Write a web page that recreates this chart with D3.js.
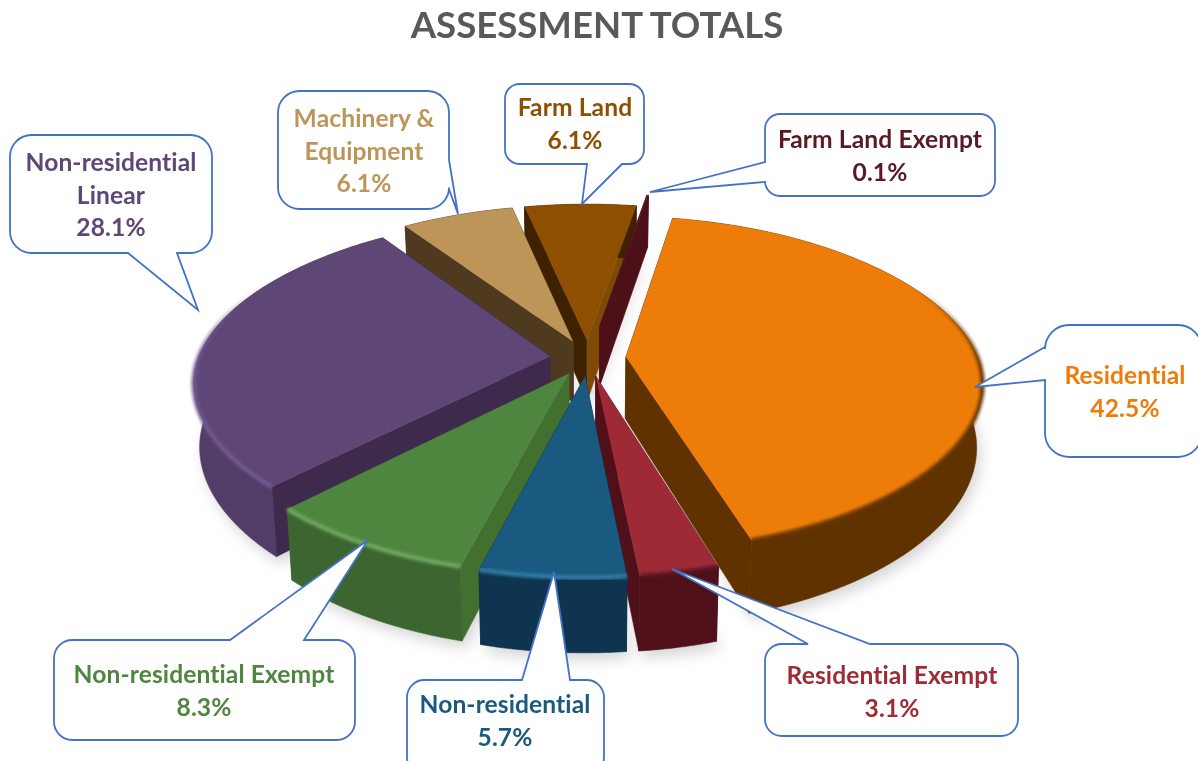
<!DOCTYPE html>
<html><head><meta charset="utf-8">
<script src="https://cdnjs.cloudflare.com/ajax/libs/d3/7.8.5/d3.min.js"></script>
<style>html,body{margin:0;padding:0;background:#fff;overflow:hidden}svg{display:block}text{font-family:Lato,"Open Sans",sans-serif;font-weight:700}</style>
</head><body><svg id="c" width="1198" height="761"></svg>
<script>
const categories=["Residential","Residential Exempt","Non-residential","Non-residential Exempt","Non-residential Linear","Machinery & Equipment","Farm Land","Farm Land Exempt"];
const shares=[42.5,3.1,5.7,8.3,28.1,6.1,6.1,0.1];
const labelLines=[["Residential"],["Residential Exempt"],["Non-residential"],["Non-residential Exempt"],["Non-residential","Linear"],["Machinery &","Equipment"],["Farm Land"],["Farm Land Exempt"]];
const topColors=["#ed7d08","#9e2a36","#1a5a80","#4e8640","#5e4676","#bd9558","#8f4f00","#5a1a24"];
const wallColors=["#5f3200","#4f101a","#0e3450","#3c6530","#523c68","#4f3a20","#3e2200","#4e1018"];
const startCut=["#5f3200","#4f101a","#0e3450","#42702f","#3e2a4d","#4f3a20","#3e2200","#4e1018"];
const endCut=["#5f3200","#4f101a","#0e3450","#42702f","#3e2a4d","#4f3a20","#7f4a06","#4e1018"];
const rimColors=["#6a3800","#5a1420","#2f7da6","#71a862","#705b90","#bd9558","#8f4f00","#5a1a24"];

// layout, not data
const W=1198,H=761,cx=588,cy=358,R=345,k=0.4725,persp=0.00046,depth=62,startDeg=10;
const explodeBy=[38,38,38,38,38,38,38,70];
const callouts=[
 {box:[1045,325,1202,457],side:"left",a:347,b:380,tip:[975,387],tx:1125,ty:384},
 {box:[765,644,1018,736],side:"top",a:808,b:870,tip:[672,569],tx:892,ty:684},
 {box:[407,680,604,775],side:"top",a:522,b:570,tip:[554,572],tx:505,ty:713},
 {box:[54,640,355,740],side:"top",a:230,b:304,tip:[368,540],tx:204,ty:683},
 {box:[10,135,212,253],side:"bottom",a:128,b:177,tip:[198,310],tx:111,ty:171},
 {box:[278,91,449,209],side:"right",a:160,b:189,tip:[458,214],tx:364,ty:127},
 {box:[505,84,644,164],side:"bottom",a:587,b:622,tip:[582,204],tx:575,ty:116},
 {box:[765,114,995,196],side:"left",a:162,b:182,tip:[650,192],tx:880,ty:148}
];

const svg=d3.select("#c");
const defs=svg.append("defs");
defs.append("filter").attr("id","shadow").attr("x","-20%").attr("y","-20%").attr("width","140%").attr("height","140%")
  .append("feGaussianBlur").attr("stdDeviation",7);
defs.append("filter").attr("id","rim").attr("x","-20%").attr("y","-20%").attr("width","140%").attr("height","140%")
  .append("feGaussianBlur").attr("stdDeviation",1.6);

const pie=d3.pie().sort(null).value(d=>d).startAngle(startDeg*Math.PI/180).endAngle((startDeg+360)*Math.PI/180);
const arcs=pie(shares).map((d,i)=>({...d,i,mid:(d.startAngle+d.endAngle)/2}));
const radius=d3.scaleLinear().domain([0,1]).range([0,R]);
const rimFade=d3.scaleLinear().domain([0.45,-0.05]).range([0,1]).clamp(true);

function project(a,f,d,z){
  const e=explodeBy[d.i],sn=Math.sin(a);
  const X=e*Math.sin(d.mid)+radius(f)*sn*(1+0.02*sn*sn*sn*sn);
  const Y=-e*Math.cos(d.mid)-radius(f)*Math.cos(a);
  const s=1/(1-persp*Y);
  return [cx+X*s*(1-0.015*z),cy+k*Y*s+z*depth*s];
}
const line=d3.line();
const sample=(d,a0,a1,f,z)=>{
  const n=Math.max(2,Math.ceil(Math.abs(a1-a0)*90));
  return d3.range(n+1).map(j=>project(a0+(a1-a0)*j/n,f,d,z));
};
const topShape=(d,z)=>[project(d.startAngle,0,d,z),...sample(d,d.startAngle,d.endAngle,1,z)];
const cutFace=(d,a)=>line([project(a,0,d,0),project(a,1,d,0),project(a,1,d,1),project(a,0,d,1)])+"Z";

// soft ground shadow
svg.append("g").attr("filter","url(#shadow)").attr("opacity",0.36)
 .selectAll("path").data(arcs).join("path")
 .attr("d",d=>line(topShape(d,1))+"Z").attr("fill","#8c8c8c").attr("transform","translate(4,7)");

const order=[...arcs].sort((a,b)=>-Math.cos(a.mid)+Math.cos(b.mid));
const g=svg.append("g").selectAll("g").data(order).join("g");
g.append("path").attr("d",d=>cutFace(d,d.startAngle)).attr("fill",d=>startCut[d.i]).attr("stroke",d=>startCut[d.i]).attr("stroke-width",0.6);
g.append("path").attr("d",d=>cutFace(d,d.endAngle)).attr("fill",d=>endCut[d.i]).attr("stroke",d=>endCut[d.i]).attr("stroke-width",0.6);
g.append("path").attr("d",d=>line([...sample(d,d.startAngle,d.endAngle,1,0),...sample(d,d.endAngle,d.startAngle,1,1)])+"Z").attr("fill",d=>wallColors[d.i]).attr("stroke",d=>wallColors[d.i]).attr("stroke-width",0.6);
g.append("path").attr("d",d=>line(topShape(d,0))+"Z").attr("fill",d=>topColors[d.i]);
// bevel along the front rim, fading out towards the back of the pie
g.append("g").attr("filter","url(#rim)").each(function(d){
  const pts=sample(d,d.startAngle,d.endAngle,1,0),n=pts.length-1;
  const segs=d3.range(n).map(j=>({p:[pts[j],pts[j+1]],o:rimFade(Math.cos(d.startAngle+(d.endAngle-d.startAngle)*(j+0.5)/n))})).filter(s=>s.o>0);
  d3.select(this).selectAll("path").data(segs).join("path")
    .attr("d",s=>line(s.p)).attr("fill","none").attr("stroke",rimColors[d.i]).attr("stroke-opacity",s=>s.o).attr("stroke-width",4.5);
});

// callouts
const blue="#4472c4";
function calloutPath(c){
  const [x0,y0,x1,y1]=c.box,r=(y1-y0)/5.5,p=d3.path();
  const [tx,ty]=c.tip;
  p.moveTo(x0+r,y0);
  if(c.side==="top"){p.lineTo(c.a,y0);p.lineTo(tx,ty);p.lineTo(c.b,y0);}
  p.arcTo(x1,y0,x1,y0+r,r);
  if(c.side==="right"){p.lineTo(x1,c.a);p.lineTo(tx,ty);p.lineTo(x1,c.b);}
  p.arcTo(x1,y1,x1-r,y1,r);
  if(c.side==="bottom"){p.lineTo(c.b,y1);p.lineTo(tx,ty);p.lineTo(c.a,y1);}
  p.arcTo(x0,y1,x0,y1-r,r);
  if(c.side==="left"){p.lineTo(x0,c.b);p.lineTo(tx,ty);p.lineTo(x0,c.a);}
  p.arcTo(x0,y0,x0+r,y0,r);
  p.closePath();
  return p.toString();
}
const cg=svg.append("g").selectAll("g").data(callouts).join("g");
cg.append("path").attr("d",calloutPath).attr("fill","#fff").attr("stroke",blue).attr("stroke-width",1.8).attr("stroke-linejoin","miter");
cg.each(function(c,i){
  const lines=[...labelLines[i],shares[i].toFixed(1)+"%"];
  const t=d3.select(this).append("text").attr("text-anchor","middle").attr("font-size",24.6).attr("letter-spacing",0.1).attr("fill",topColors[i]);
  lines.forEach((s,j)=>t.append("tspan").attr("x",c.tx).attr("y",c.ty+j*32.5).text(s));
});

svg.append("text").attr("x",597).attr("y",38).attr("text-anchor","middle").attr("font-size",36.6).attr("fill","#595959").text("ASSESSMENT TOTALS");
</script></body></html>
